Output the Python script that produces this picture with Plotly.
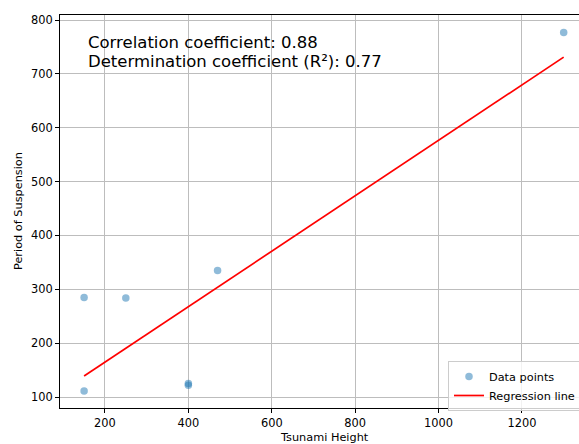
import numpy as np
import plotly.graph_objects as go

# Data
tsunami_height = [150, 150, 250, 400, 400, 470, 1300]
period_of_suspension = [111, 285, 284, 122, 125, 335, 777]
x_ticks = [200, 400, 600, 800, 1000, 1200]
y_ticks = [100, 200, 300, 400, 500, 600, 700, 800]

x = np.array(tsunami_height, dtype=float)
y = np.array(period_of_suspension, dtype=float)
slope, intercept = np.polyfit(x, y, 1)
r = np.corrcoef(x, y)[0, 1]
y_fit = slope * x + intercept

W, H = 579, 444
L, R, T, B = 60, 0, 15, 36
pw = W - L - R
ph = H - T - B

FONT = "DejaVu Sans"

fig = go.Figure()
fig.add_trace(go.Scatter(
    x=tsunami_height, y=period_of_suspension, mode="markers", name="Data points",
    marker=dict(color="rgba(31,119,180,0.5)", size=7.5, line=dict(width=0)),
))
fig.add_trace(go.Scatter(
    x=x, y=y_fit, mode="lines", name="Regression line",
    line=dict(color="red", width=1.7),
))

def px_x(p):
    return (p - L) / pw

def px_y(p):
    return 1 - (p - T) / ph

annotations = [
    dict(text=f"Correlation coefficient: {r:.2f}", xref="paper", yref="paper",
         x=px_x(86), y=px_y(42), xanchor="left", yanchor="middle", showarrow=False,
         font=dict(family=FONT, size=16.5, color="black")),
    dict(text=f"Determination coefficient (R²): {r**2:.2f}", xref="paper", yref="paper",
         x=px_x(86), y=px_y(61), xanchor="left", yanchor="middle", showarrow=False,
         font=dict(family=FONT, size=16.5, color="black")),
    dict(text="Tsunami Height", xref="paper", yref="paper",
         x=px_x(324), y=px_y(438), xanchor="center", yanchor="middle", showarrow=False,
         font=dict(family=FONT, size=11.3, color="black")),
    dict(text="Period of Suspension", xref="paper", yref="paper", textangle=-90,
         x=px_x(18), y=px_y(211), xanchor="center", yanchor="middle", showarrow=False,
         font=dict(family=FONT, size=11.3, color="black")),
]

fig.update_layout(
    width=W, height=H,
    margin=dict(l=L, r=R, t=T, b=B, pad=0, autoexpand=False),
    paper_bgcolor="white", plot_bgcolor="white",
    font=dict(family=FONT, size=11.4, color="black"),
    showlegend=True,
    legend=dict(
        x=px_x(448), y=px_y(361), xanchor="left", yanchor="top",
        bgcolor="rgba(255,255,255,0.8)", bordercolor="#cccccc", borderwidth=1,
        font=dict(family=FONT, size=11.3, color="black"),
        tracegroupgap=0,
    ),
    annotations=annotations,
    xaxis=dict(
        range=[92.2, 1336.7], tickvals=x_ticks, ticks="outside", ticklen=4,
        tickcolor="black", showline=True, linecolor="black", linewidth=1,
        mirror=True, showgrid=True, gridcolor="#bdbdbd", gridwidth=1,
        zeroline=False, tickfont=dict(family=FONT, size=11.4, color="black"),
    ),
    yaxis=dict(
        range=[79.6, 809.3], tickvals=y_ticks, ticks="outside", ticklen=4,
        tickcolor="black", showline=True, linecolor="black", linewidth=1,
        mirror=False, showgrid=True, gridcolor="#bdbdbd", gridwidth=1,
        zeroline=False, tickfont=dict(family=FONT, size=11.4, color="black"),
    ),
)

fig.write_html(
    "out.html",
    config={"displayModeBar": False},
    post_script="document.body.style.margin='0';document.body.style.overflow='hidden';",
)
